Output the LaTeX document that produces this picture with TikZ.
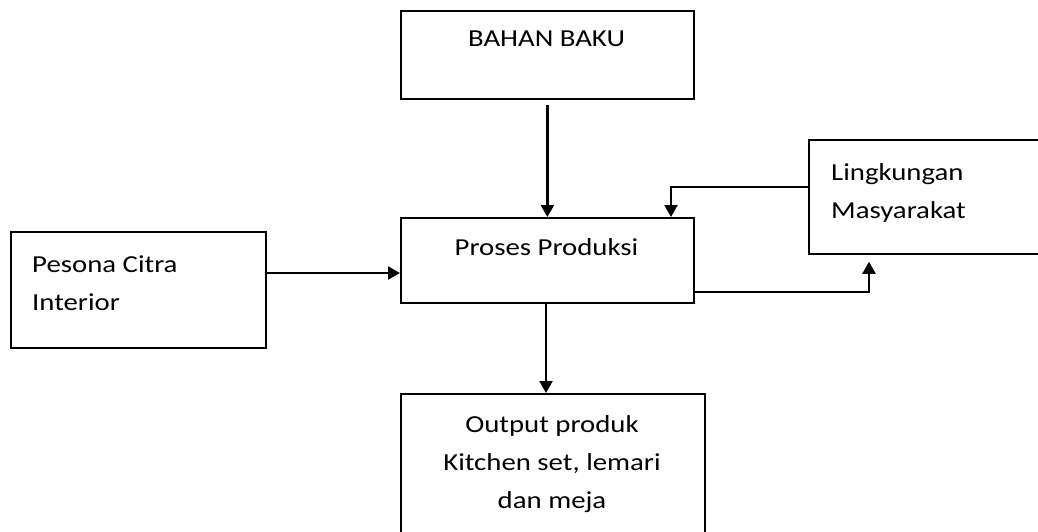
\documentclass[tikz,border=0pt]{standalone}
\usepackage{fontspec}
\setmainfont{Carlito}[FakeStretch=1.18]
\usetikzlibrary{arrows.meta,calc,positioning}

\begin{document}
\begin{tikzpicture}[x=1pt,y=-1pt,
    box/.style={draw,line width=1.8pt,anchor=north west,inner sep=0pt},
    txt/.style={inner sep=0pt,font=\fontsize{24.4}{38}\selectfont},
    arr/.style={line width=2.2pt,-{Triangle[length=12pt,width=13pt]}}]

  \useasboundingbox (0,0) rectangle (1038,532);

  % boxes
  \node[box,minimum width=293pt,minimum height=88pt] (bahan) at (400,10) {};
  \node[box,minimum width=293pt,minimum height=85pt] (proses) at (400,217) {};
  \node[box,minimum width=255pt,minimum height=116pt] (pesona) at (10,231) {};
  \node[box,minimum width=240pt,minimum height=114pt] (lingk) at (808,139) {};
  \node[box,minimum width=304pt,minimum height=150pt] (output) at (400,393) {};

  % texts (multi-line ones placed at the baseline of their last line)
  \node[txt,anchor=base] (tbahan) at (546.5,47) {BAHAN BAKU};
  \node[txt,anchor=base] (tproses) at (546.5,255) {Proses Produksi};
  \node[txt,anchor=base west,align=left] (tpesona) at (32,310) {Pesona Citra\\Interior};
  \node[txt,anchor=base west,align=left] (tlingk) at (831,218) {Lingkungan\\Masyarakat};
  \node[txt,anchor=base,align=center] (toutput) at (552,508) {Output produk\\Kitchen set, lemari\\dan meja};

  % connectors
  \coordinate (pin) at (265,273);
  \coordinate (fb1) at (671,187);
  \coordinate (fb2) at (869,292);
  \coordinate (down) at (546,0);

  \draw[arr,shorten <=5pt] (bahan.south) -- (proses.north);
  \draw[arr] (pesona.east |- pin) -- (proses.west |- pin);
  \draw[arr] (down |- proses.south) -- (down |- output.north);
  \draw[arr] (lingk.west |- fb1) -| (fb1 |- proses.north);
  \draw[arr,shorten >=7pt] (proses.east |- fb2) -| (fb2 |- lingk.south);
\end{tikzpicture}
\end{document}
